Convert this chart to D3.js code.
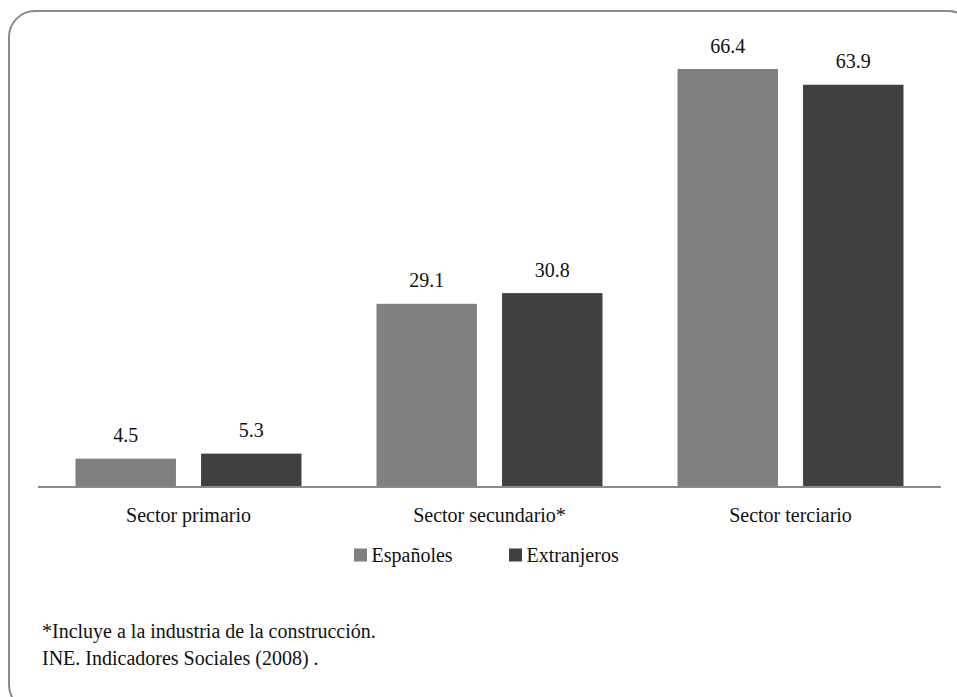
<!DOCTYPE html>
<html>
<head>
<meta charset="utf-8">
<script src="https://cdn.jsdelivr.net/npm/d3@7"></script>
<style>
  body { margin: 0; background: #fff; }
</style>
</head>
<body>
<div id="chart"></div>
<script>
{
const categories = ["Sector primario", "Sector secundario*", "Sector terciario"];
const seriesNames = ["Españoles", "Extranjeros"];
const espanoles = [4.5, 29.1, 66.4];
const extranjeros = [5.3, 30.8, 63.9];
const notes = ["*Incluye a la industria de la construcción.", "INE. Indicadores Sociales (2008) ."];

const W = 957, H = 697;
const color = d3.scaleOrdinal().domain(seriesNames).range(["#808080", "#404040"]);

// serif only came out right at 20px in this sandbox
function serifText(sel) {
    sel.attr("font-family", "serif")
       .attr("font-size", 20)
       .attr("fill", "#111");
}

const svg = d3.select("#chart").append("svg")
    .attr("width", W)
    .attr("height", H);

// rounded frame, runs off the page at right and bottom
svg.append("rect")
    .attr("x", 9).attr("y", 11)
    .attr("width", 965).attr("height", 700)
    .attr("rx", 26).attr("ry", 26)
    .attr("fill", "none")
    .attr("stroke", "#8a8a8a")
    .attr("stroke-width", 2);

const baseY = 487;
const x0 = d3.scaleBand().domain(categories).range([38, 941]);
const x1 = d3.scaleBand().domain(seriesNames).range([37.5, x0.bandwidth() - 37.5]).paddingInner(0.2);
const y = d3.scaleLinear().domain([0, 66.4]).range([baseY, 69]);

const rows = categories.map((c, i) => ({cat: c, vals: [espanoles[i], extranjeros[i]]}));

const g = svg.selectAll("g.cat")
    .data(rows)
    .join("g")
    .attr("class", "cat")
    .attr("transform", d => `translate(${x0(d.cat)},0)`);

g.selectAll("rect")
    .data(d => d.vals.map((v, j) => ({s: seriesNames[j], v: v})))
    .join("rect")
    .attr("x", d => x1(d.s))
    .attr("y", d => y(d.v))
    .attr("width", x1.bandwidth())
    .attr("height", d => baseY - y(d.v))
    .attr("fill", d => color(d.s));

// value labels
g.selectAll("text.val")
    .data(d => d.vals.map((v, j) => ({s: seriesNames[j], v: v})))
    .join("text")
    .attr("class", "val")
    .attr("x", d => x1(d.s) + x1.bandwidth() / 2)
    .attr("y", d => y(d.v) - 16.5)
    .attr("text-anchor", "middle")
    .call(serifText)
    .text(d => d.v.toFixed(1));

// baseline
svg.append("line")
    .attr("x1", 38).attr("x2", 941)
    .attr("y1", baseY).attr("y2", baseY)
    .attr("stroke", "#8a8a8a")
    .attr("stroke-width", 2);

// category labels
const ax = svg.append("g")
    .attr("transform", `translate(0,${baseY})`)
    .call(d3.axisBottom(x0).tickSize(0).tickPadding(0));
ax.select(".domain").remove();
ax.selectAll("text")
    .attr("dy", null)
    .attr("y", 35)
    .call(serifText);

// legend
const legX = [354, 509];
const leg = svg.selectAll("g.leg")
    .data(seriesNames)
    .join("g")
    .attr("class", "leg")
    .attr("transform", (d, i) => `translate(${legX[i]},548.5)`);
leg.append("rect")
    .attr("width", 13).attr("height", 13)
    .attr("fill", d => color(d));
leg.append("text")
    .attr("x", 17.5).attr("y", 13.5)
    .call(serifText)
    .text(d => d);

// notes
svg.selectAll("text.note")
    .data(notes)
    .join("text")
    .attr("class", "note")
    .attr("x", 42)
    .attr("y", (d, i) => 638 + i * 27)
    .call(serifText)
    .text(d => d);
}
</script>
</body>
</html>
